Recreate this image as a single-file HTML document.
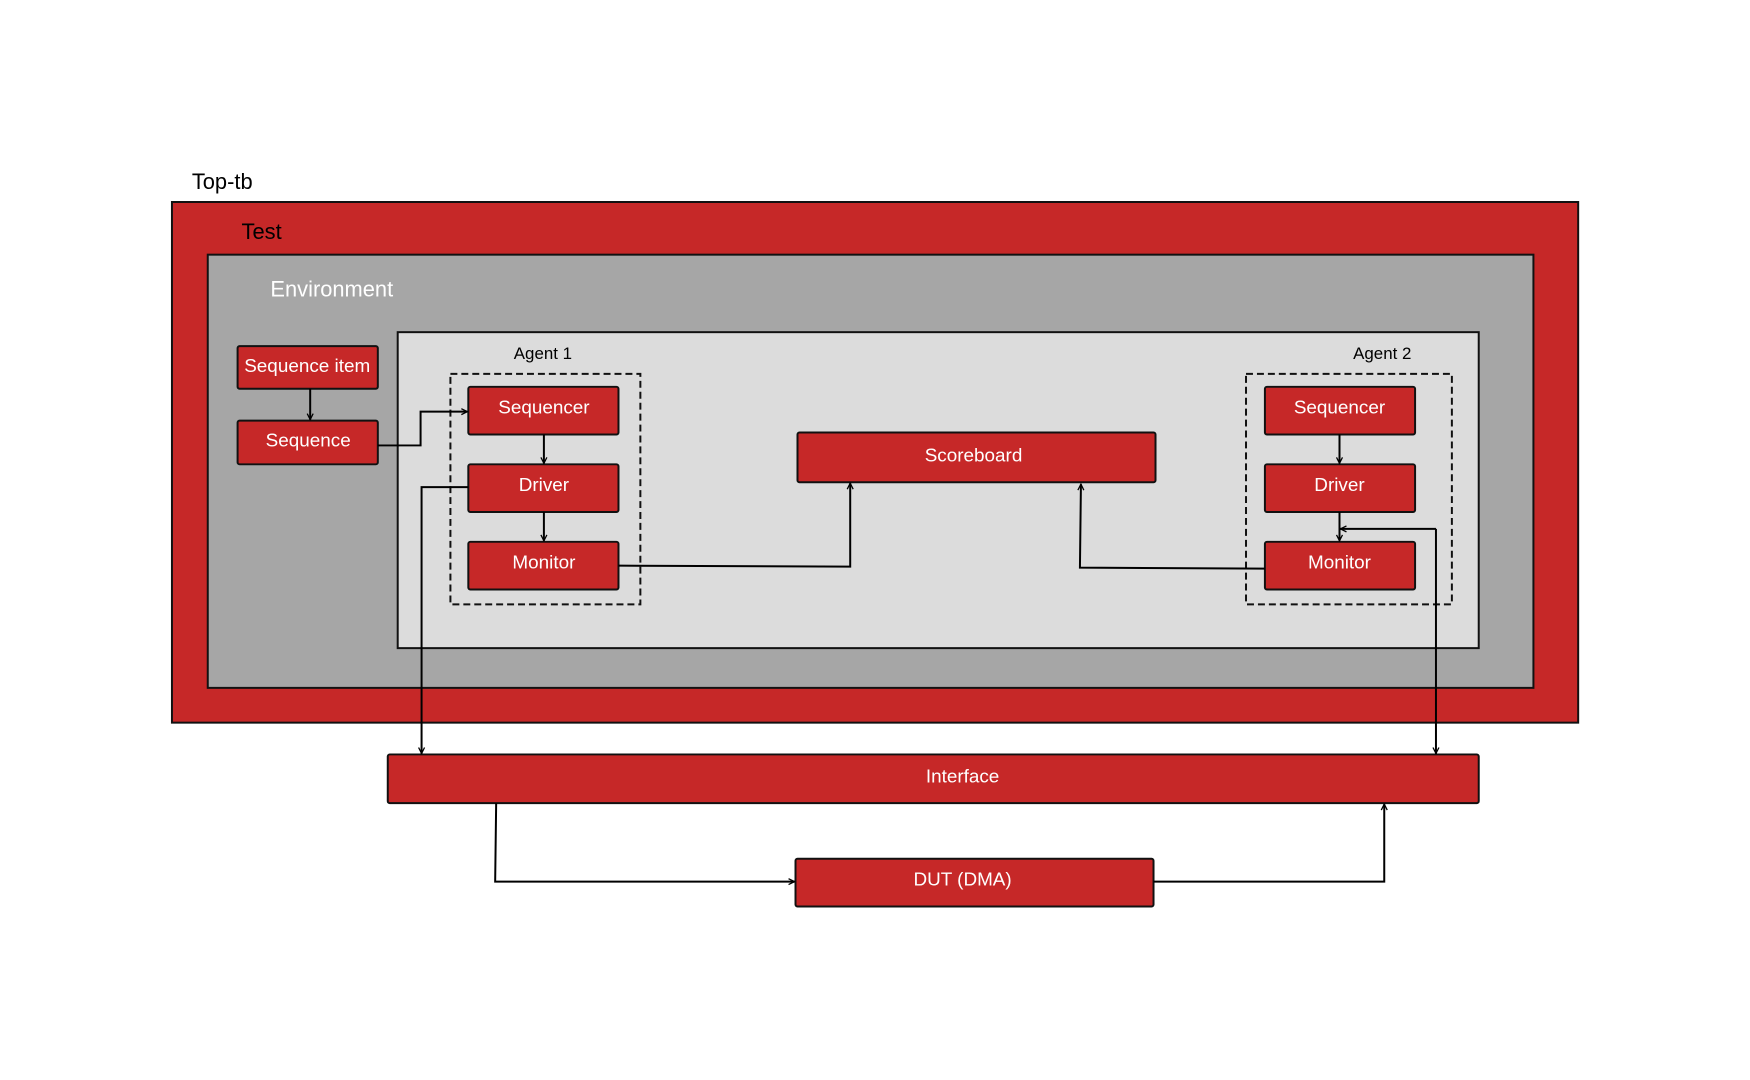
<!DOCTYPE html>
<html><head><meta charset="utf-8"><style>
html,body{margin:0;padding:0;background:#fff;}
svg{display:block;}
text{font-family:"Liberation Sans Narrow","Liberation Sans",sans-serif;}
</style></head><body>
<svg width="1750" height="1080" viewBox="0 0 1750 1080" xmlns="http://www.w3.org/2000/svg">
<defs>
<marker id="a" markerWidth="8" markerHeight="8" refX="7" refY="4" orient="auto" markerUnits="userSpaceOnUse">
<path d="M1,1 L7,4 L1,7" fill="none" stroke="#000" stroke-width="1.3"/></marker>
</defs>
<g transform="translate(0.9,0.3) scale(0.9945 0.9936)">
<rect x="172" y="203" width="1414" height="524" fill="#c62828" stroke="#111" stroke-width="2"/>
<rect x="208" y="256" width="1333" height="436" fill="#a6a6a6" stroke="#111" stroke-width="2"/>
<rect x="399" y="334" width="1087" height="318" fill="#dcdcdc" stroke="#111" stroke-width="2"/>
<text x="192" y="190" font-size="22" fill="#000">Top-tb</text>
<text x="242" y="240" font-size="22" fill="#000">Test</text>
<text x="271" y="298" font-size="22" fill="#fff">Environment</text>
<text x="545" y="361" font-size="17" fill="#000" text-anchor="middle">Agent 1</text>
<text x="1389" y="361" font-size="17" fill="#000" text-anchor="middle">Agent 2</text>
<rect x="452" y="376" width="191" height="232" fill="none" stroke="#111" stroke-width="2" stroke-dasharray="7,4"/>
<rect x="1252" y="376" width="207" height="232" fill="none" stroke="#111" stroke-width="2" stroke-dasharray="7,4"/>
<g fill="#c62828" stroke="#111" stroke-width="2">
<rect x="238" y="348" width="141" height="43" rx="2"/>
<rect x="238" y="423" width="141" height="44" rx="2"/>
<rect x="470" y="389" width="151" height="48" rx="2"/>
<rect x="470" y="467" width="151" height="48" rx="2"/>
<rect x="470" y="545" width="151" height="48" rx="2"/>
<rect x="1271" y="389" width="151" height="48" rx="2"/>
<rect x="1271" y="467" width="151" height="48" rx="2"/>
<rect x="1271" y="545" width="151" height="48" rx="2"/>
<rect x="801" y="435" width="360" height="50" rx="2"/>
<rect x="389" y="759" width="1097" height="49" rx="2"/>
<rect x="799" y="864" width="360" height="48" rx="2"/>
</g>
<g fill="#fff" font-size="19" text-anchor="middle">
<text x="308" y="374">Sequence item</text>
<text x="309" y="449">Sequence</text>
<text x="546" y="416">Sequencer</text>
<text x="546" y="494">Driver</text>
<text x="546" y="572">Monitor</text>
<text x="1346" y="416">Sequencer</text>
<text x="1346" y="494">Driver</text>
<text x="1346" y="572">Monitor</text>
<text x="978" y="464">Scoreboard</text>
<text x="967" y="787">Interface</text>
<text x="967" y="891">DUT (DMA)</text>
</g>
<g fill="none" stroke="#000" stroke-width="2">
<path d="M311,391 V422" marker-end="url(#a)"/>
<path d="M379,448 H422 V414 H469" marker-end="url(#a)"/>
<path d="M546,437 V466" marker-end="url(#a)"/>
<path d="M546,515 V544" marker-end="url(#a)"/>
<path d="M1346,437 V466" marker-end="url(#a)"/>
<path d="M1346,515 V544" marker-end="url(#a)"/>
<path d="M621,569 L854,570 V486" marker-end="url(#a)"/>
<path d="M1271,572 L1085,571 L1086,487" marker-end="url(#a)"/>
<path d="M470,490 H423 V758" marker-end="url(#a)"/>
<path d="M1443,532 V758" marker-end="url(#a)"/>
<path d="M1443,532 H1347" marker-end="url(#a)"/>
<path d="M498,808 L497,887 H798" marker-end="url(#a)"/>
<path d="M1159,887 H1391 V809" marker-end="url(#a)"/>
</g>
</g>
</svg>
</body></html>
